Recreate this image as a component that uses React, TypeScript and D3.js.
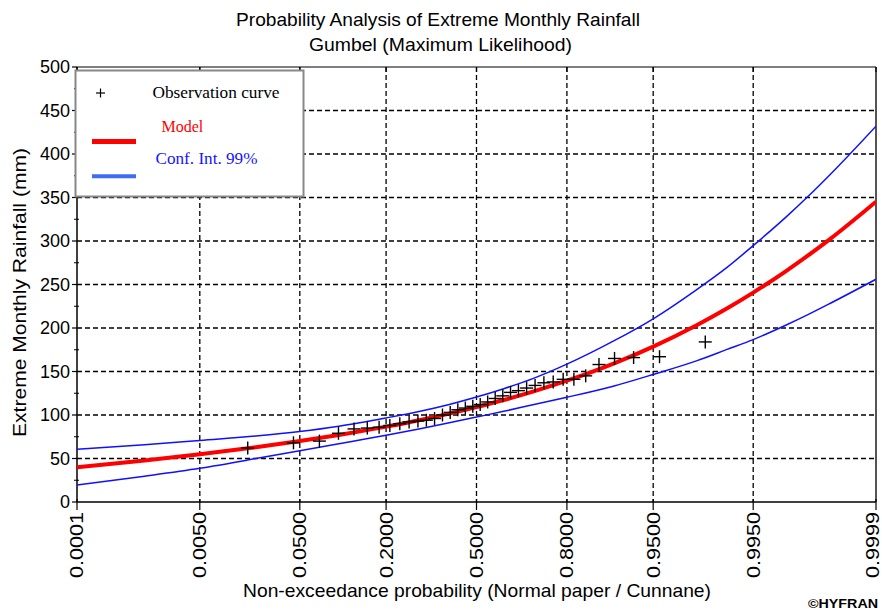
import React from "react";
import * as d3 from "d3";

const W = 882;
const H = 612;

// x-axis tick probabilities (normal probability paper)
const xTickProbs = [0.0001, 0.005, 0.05, 0.2, 0.5, 0.8, 0.95, 0.995, 0.9999];
const xTickLabels = ["0.0001", "0.0050", "0.0500", "0.2000", "0.5000", "0.8000", "0.9500", "0.9950", "0.9999"];
const yTicks = [0, 50, 100, 150, 200, 250, 300, 350, 400, 450, 500];

// model curve & 99% confidence interval
const curveProbs = [0.0001, 0.001, 0.005, 0.02, 0.05, 0.1, 0.2, 0.3, 0.4, 0.5, 0.6, 0.7, 0.8, 0.9, 0.95, 0.98, 0.99, 0.995, 0.998, 0.999, 0.9995, 0.9999];
const modelValues = [40.0, 47.7, 54.8, 62.9, 70.0, 77.0, 86.6, 94.3, 101.6, 109.1, 117.2, 126.8, 139.4, 159.4, 178.6, 203.5, 222.1, 240.7, 265.2, 283.7, 302.2, 345.2];
const upperValues = [60.5, 65.7, 70.8, 75.9, 81.0, 87.0, 96.6, 104.3, 112.1, 120.6, 130.2, 141.8, 158.4, 185.4, 210.6, 244.5, 269.1, 294.7, 327.2, 351.7, 376.2, 432.0];
const lowerValues = [19.5, 29.7, 38.8, 49.9, 59.0, 67.0, 76.6, 84.3, 91.1, 97.6, 104.2, 111.8, 120.4, 133.4, 146.6, 162.5, 175.1, 186.7, 203.2, 215.7, 228.2, 256.0];

const obsProbs = [0.0166, 0.0442, 0.0718, 0.0994, 0.1271, 0.1547, 0.1823, 0.2099, 0.2376, 0.2652, 0.2928, 0.3204, 0.3481, 0.3757, 0.4033, 0.4309, 0.4586, 0.4862, 0.5138, 0.5414, 0.5691, 0.5967, 0.6243, 0.6519, 0.6796, 0.7072, 0.7348, 0.7624, 0.7901, 0.8177, 0.8453, 0.8729, 0.9006, 0.9282, 0.9558, 0.9834];
const obsValues = [62, 68, 70, 79, 84, 85, 86, 88, 90, 92, 93, 94, 96, 100, 103, 106, 108, 110, 112, 115, 119, 122, 126, 128, 131, 134, 137, 138, 141, 141, 145, 158, 165, 166, 167, 184];

// inverse standard normal CDF (Acklam) — defines the normal-paper axis
function probit(p: number): number {
  const a = [-3.969683028665376e1, 2.209460984245205e2, -2.759285104469687e2, 1.38357751867269e2, -3.066479806614716e1, 2.506628277459239];
  const b = [-5.447609879822406e1, 1.615858368580409e2, -1.556989798598866e2, 6.680131188771972e1, -1.328068155288572e1];
  const c = [-7.784894002430293e-3, -3.223964580411365e-1, -2.400758277161838, -2.549732539343734, 4.374664141464968, 2.938163982698783];
  const d = [7.784695709041462e-3, 3.224671290700398e-1, 2.445134137142996, 3.754408661907416];
  const pl = 0.02425;
  if (p < pl) {
    const q = Math.sqrt(-2 * Math.log(p));
    return (((((c[0] * q + c[1]) * q + c[2]) * q + c[3]) * q + c[4]) * q + c[5]) / ((((d[0] * q + d[1]) * q + d[2]) * q + d[3]) * q + 1);
  }
  if (p <= 1 - pl) {
    const q = p - 0.5;
    const r = q * q;
    return ((((((a[0] * r + a[1]) * r + a[2]) * r + a[3]) * r + a[4]) * r + a[5]) * q) / (((((b[0] * r + b[1]) * r + b[2]) * r + b[3]) * r + b[4]) * r + 1);
  }
  const q = Math.sqrt(-2 * Math.log(1 - p));
  return -(((((c[0] * q + c[1]) * q + c[2]) * q + c[3]) * q + c[4]) * q + c[5]) / ((((d[0] * q + d[1]) * q + d[2]) * q + d[3]) * q + 1);
}

const L = 77, R = 876, T = 67, B = 502;

export default function App() {
  const zx = d3.scaleLinear().domain([probit(0.0001), probit(0.9999)]).range([L, R]);
  const x = (p: number) => zx(probit(p));
  const y = d3.scaleLinear().domain([0, 500]).range([B, T]);

  const line = d3
    .line<[number, number]>()
    .x((d) => x(d[0]))
    .y((d) => y(d[1]))
    .curve(d3.curveMonotoneX);

  const modelPath = line(curveProbs.map((p, i) => [p, modelValues[i]]));
  const upperPath = line(curveProbs.map((p, i) => [p, upperValues[i]]));
  const lowerPath = line(curveProbs.map((p, i) => [p, lowerValues[i]]));

  const minorY = d3.range(25, 500, 50);
  const sans = "'Liberation Sans', Arial, sans-serif";
  const serif = "'Liberation Serif', 'Times New Roman', serif";

  return (
    <div style={{ position: "absolute", left: 0, top: 0 }}>
      <svg width={W} height={H} style={{ display: "block", background: "#fff" }}>
        <rect x={0} y={0} width={W} height={H} fill="#fff" />
        <defs>
          <clipPath id="plot">
            <rect x={L} y={T} width={R - L} height={B - T} />
          </clipPath>
        </defs>

        {/* grid */}
        <g stroke="#000" strokeWidth={1.3} strokeDasharray="5,3" fill="none">
          {yTicks.slice(1, -1).map((v) => (
            <line key={"gy" + v} x1={L} x2={R} y1={y(v)} y2={y(v)} />
          ))}
          {xTickProbs.slice(1, -1).map((p) => (
            <line key={"gx" + p} x1={x(p)} x2={x(p)} y1={T} y2={B} />
          ))}
        </g>

        {/* frame */}
        <line x1={L} x2={R} y1={T} y2={T} stroke="#000" strokeWidth={1.2} />
        <line x1={R} x2={R} y1={T} y2={B} stroke="#555" strokeWidth={2} />
        <line x1={L} x2={L} y1={T} y2={B} stroke="#000" strokeWidth={1.5} />
        <line x1={L} x2={R} y1={B} y2={B} stroke="#000" strokeWidth={1.5} />

        {/* y ticks */}
        {yTicks.map((v) => (
          <g key={"yt" + v}>
            <line x1={L - 5} x2={L} y1={y(v)} y2={y(v)} stroke="#000" strokeWidth={1.2} />
            <text x={70} y={y(v)} dy="0.36em" textAnchor="end" fontFamily={sans} fontSize={18} fill="#000">
              {v}
            </text>
          </g>
        ))}
        {minorY.map((v) => (
          <line key={"ym" + v} x1={L - 3} x2={L + 2} y1={y(v)} y2={y(v)} stroke="#000" strokeWidth={1} />
        ))}

        {/* x ticks */}
        {xTickProbs.map((p, i) => {
          const lx = Math.min(x(p), W - 9);
          return (
            <g key={"xt" + p}>
              <line x1={x(p)} x2={x(p)} y1={B - 3} y2={B + 8} stroke="#000" strokeWidth={1.2} />
              <line x1={x(p)} x2={x(p)} y1={T} y2={T + 5} stroke="#000" strokeWidth={1.2} />
              <text
                transform={`translate(${lx},${B + 10}) rotate(-90)`}
                dy="0.36em"
                textAnchor="end"
                fontFamily={sans}
                fontSize={18}
                textLength={66}
                lengthAdjust="spacingAndGlyphs"
                fill="#000"
              >
                {xTickLabels[i]}
              </text>
            </g>
          );
        })}

        {/* curves */}
        <g clipPath="url(#plot)" fill="none">
          <path d={upperPath || ""} stroke="#1010ff" strokeWidth={1.5} />
          <path d={lowerPath || ""} stroke="#1010ff" strokeWidth={1.5} />
          <path d={modelPath || ""} stroke="#ff0000" strokeWidth={4} />
        </g>

        {/* observations */}
        <g stroke="#000" strokeWidth={1.4}>
          {obsProbs.map((p, i) => {
            const cx = x(p);
            const cy = y(obsValues[i]);
            return (
              <g key={"o" + i}>
                <line x1={cx - 6.5} x2={cx + 6.5} y1={cy} y2={cy} />
                <line x1={cx} x2={cx} y1={cy - 6.5} y2={cy + 6.5} />
              </g>
            );
          })}
        </g>

        {/* legend */}
        <rect x={75.5} y={70.5} width={228} height={126} fill="#fff" stroke="#888" strokeWidth={2} />
        <g stroke="#000" strokeWidth={1.2}>
          <line x1={96} x2={105} y1={93} y2={93} />
          <line x1={100.5} x2={100.5} y1={88.5} y2={97.5} />
        </g>
        <text x={152.5} y={98} fontFamily={serif} fontSize={16} fill="#000" textLength={127} lengthAdjust="spacingAndGlyphs">
          Observation curve
        </text>
        <text x={161.5} y={132} fontFamily={serif} fontSize={16} fill="#ff0000">
          Model
        </text>
        <line x1={92} x2={136} y1={141.5} y2={141.5} stroke="#ff0000" strokeWidth={5} />
        <text x={155.5} y={164} fontFamily={serif} fontSize={16} fill="#1515ff" textLength={102} lengthAdjust="spacingAndGlyphs">
          Conf. Int. 99%
        </text>
        <line x1={92} x2={136} y1={176.3} y2={176.3} stroke="#3d6df2" strokeWidth={4} />

        {/* titles */}
        <text x={438} y={26} textAnchor="middle" fontFamily={sans} fontSize={19} fill="#000" textLength={404} lengthAdjust="spacingAndGlyphs">
          Probability Analysis of Extreme Monthly Rainfall
        </text>
        <text x={440.5} y={51} textAnchor="middle" fontFamily={sans} fontSize={19} fill="#000" textLength={263} lengthAdjust="spacingAndGlyphs">
          Gumbel (Maximum Likelihood)
        </text>
        <text
          transform={`translate(26,292.5) rotate(-90)`}
          textAnchor="middle"
          fontFamily={sans}
          fontSize={19}
          fill="#000"
          textLength={289}
          lengthAdjust="spacingAndGlyphs"
        >
          Extreme Monthly Rainfall  (mm)
        </text>
        <text x={477} y={597} textAnchor="middle" fontFamily={sans} fontSize={19} fill="#000" textLength={468} lengthAdjust="spacingAndGlyphs">
          Non-exceedance probability (Normal paper / Cunnane)
        </text>
        <text x={843} y={608} textAnchor="middle" fontFamily={sans} fontSize={12} fontWeight="bold" fill="#000" textLength={70} lengthAdjust="spacingAndGlyphs">
          ©HYFRAN
        </text>
      </svg>
    </div>
  );
}
